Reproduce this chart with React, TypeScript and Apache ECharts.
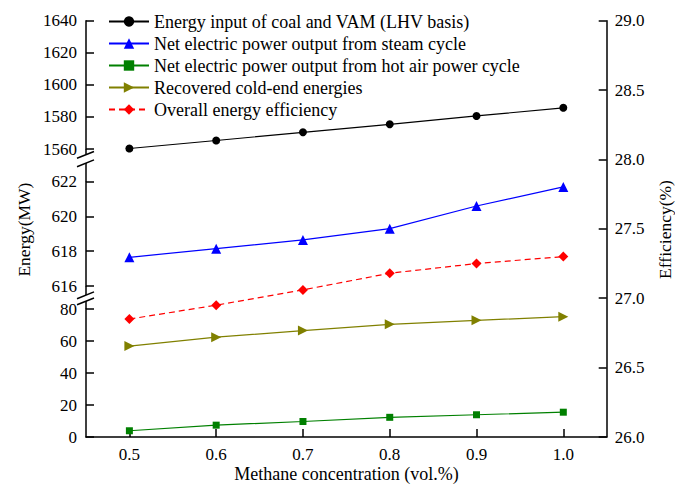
import React, { useEffect, useRef } from "react";
import * as echarts from "echarts";

// ---- data ----
const categories = ["0.5", "0.6", "0.7", "0.8", "0.9", "1.0"];
const energyInput = [1560.3, 1565.3, 1570.4, 1575.4, 1580.6, 1585.7];
const steamPower = [617.65, 618.15, 618.65, 619.3, 620.6, 621.7];
const hotAirPower = [3.9, 7.4, 9.7, 12.3, 13.9, 15.5];
const coldEnd = [56.8, 62.4, 66.5, 70.4, 72.9, 75.2];
const efficiency = [26.85, 26.95, 27.06, 27.18, 27.25, 27.3];

const topRange = [1560, 1640, 20];
const midRange = [616, 622, 2];
const lowRange = [0, 80, 20];
const effRange = [26, 29, 0.5];

const seriesNames = [
  "Energy input of coal and VAM (LHV basis)",
  "Net electric power output from steam cycle",
  "Net electric power output from hot air power cycle",
  "Recovered cold-end energies",
  "Overall energy efficiency",
];

const FAMILY = "Liberation Serif";

export default function App() {
  const ref = useRef<HTMLDivElement>(null);
  useEffect(() => {
    if (!ref.current) return;
    const chart = echarts.init(ref.current, null, { renderer: "svg" });
    const L = 86;
    const R = 68.3;
    const grids = [
      { left: L, right: R, top: 20.7, height: 128.3 },
      { left: L, right: R, top: 181.7, height: 104.3 },
      { left: L, right: R, top: 309, height: 128 },
      { left: L, right: R, top: 20.7, height: 416.3 },
    ];
    const axisLineStyle = { color: "#000", width: 1.5 };
    const labelStyle = { color: "#000", fontFamily: FAMILY, fontSize: 17 };
    const xAxes = grids.map((_, i) => ({
      type: "category",
      gridIndex: i,
      data: categories,
      show: i === 2,
      boundaryGap: true,
      axisLine: { show: true, onZero: false, lineStyle: axisLineStyle },
      axisTick: { show: true, inside: true, alignWithLabel: true, length: 8, lineStyle: axisLineStyle },
      axisLabel: { ...labelStyle, margin: 9 },
      splitLine: { show: false },
    }));
    const mkY = (gi: number, r: number[], extra: any = {}) => ({
      type: "value",
      gridIndex: gi,
      min: r[0],
      max: r[1],
      interval: r[2],
      position: "left",
      axisLine: { show: true, onZero: false, lineStyle: axisLineStyle },
      axisTick: { show: true, inside: true, length: 8, lineStyle: axisLineStyle },
      axisLabel: { ...labelStyle, margin: 9, formatter: (v: number) => String(v) },
      splitLine: { show: false },
      ...extra,
    });
    const yAxes = [
      mkY(0, topRange),
      mkY(1, midRange),
      mkY(2, lowRange),
      mkY(3, effRange, {
        position: "right",
        axisLabel: { ...labelStyle, margin: 8, formatter: (v: number) => v.toFixed(1) },
      }),
    ];
    const base = { type: "line", clip: false, symbolKeepAspect: true };
    const series = [
      {
        ...base,
        name: seriesNames[0],
        xAxisIndex: 0,
        yAxisIndex: 0,
        data: energyInput,
        symbol: "circle",
        symbolSize: 8,
        itemStyle: { color: "#000" },
        lineStyle: { color: "#000", width: 1.2 },
      },
      {
        ...base,
        name: seriesNames[1],
        xAxisIndex: 1,
        yAxisIndex: 1,
        data: steamPower,
        symbol: "triangle",
        symbolSize: 10,
        itemStyle: { color: "#0000ff" },
        lineStyle: { color: "#0000ff", width: 1.2 },
      },
      {
        ...base,
        name: seriesNames[2],
        xAxisIndex: 2,
        yAxisIndex: 2,
        data: hotAirPower,
        symbol: "rect",
        symbolSize: 7,
        itemStyle: { color: "#008000" },
        lineStyle: { color: "#008000", width: 1.2 },
      },
      {
        ...base,
        name: seriesNames[3],
        xAxisIndex: 2,
        yAxisIndex: 2,
        data: coldEnd,
        symbol: "triangle",
        symbolRotate: -90,
        symbolSize: 10,
        itemStyle: { color: "#808000" },
        lineStyle: { color: "#808000", width: 1.2 },
      },
      {
        ...base,
        name: seriesNames[4],
        xAxisIndex: 3,
        yAxisIndex: 3,
        data: efficiency,
        symbol: "diamond",
        symbolSize: 10,
        itemStyle: { color: "#ff0000" },
        lineStyle: { color: "#ff0000", width: 1.2, type: [6, 4] },
      },
    ];
    const ln = (x1: number, y1: number, x2: number, y2: number) => ({
      type: "line",
      shape: { x1, y1, x2, y2 },
      style: { stroke: "#000", lineWidth: 1.5 },
      silent: true,
    });
    const txt = (text: string, x: number, y: number, size: number, rot = 0) => ({
      type: "text",
      x,
      y,
      rotation: rot,
      style: {
        text,
        fill: "#000",
        fontFamily: FAMILY,
        fontSize: size,
        align: "center",
        verticalAlign: "middle",
      },
    });
    const graphic = [
      // axis line pieces between segments
      ln(L, 149, L, 154.5),
      ln(L, 162.9, L, 181.7),
      ln(L, 286, L, 295),
      ln(L, 301, L, 309),
      // break marks
      ln(77, 158.3, 94, 151.5),
      ln(77, 166.7, 94, 159.9),
      ln(77, 298.7, 94, 291.9),
      ln(77, 304.8, 94, 298),
      txt("Energy(MW)", 23.5, 229.6, 17.5, Math.PI / 2),
      txt("Efficiency(%)", 664.5, 229.5, 17.5, Math.PI / 2),
      txt("Methane concentration (vol.%)", 346.5, 473.5, 18),
    ];
    chart.setOption({
      animation: false,
      backgroundColor: "#fff",
      textStyle: { fontFamily: FAMILY },
      grid: grids,
      xAxis: xAxes,
      yAxis: yAxes,
      legend: {
        orient: "vertical",
        left: 108,
        top: 12.5,
        padding: 0,
        itemWidth: 40,
        itemHeight: 13,
        itemGap: 4,
        textStyle: { color: "#000", fontFamily: FAMILY, fontSize: 18, lineHeight: 18 },
        data: seriesNames,
      },
      series,
      graphic,
    });
    return () => chart.dispose();
  }, []);
  return (
    <div
      ref={ref}
      style={{ position: "fixed", left: 0, top: 0, width: 675, height: 489 }}
    />
  );
}
